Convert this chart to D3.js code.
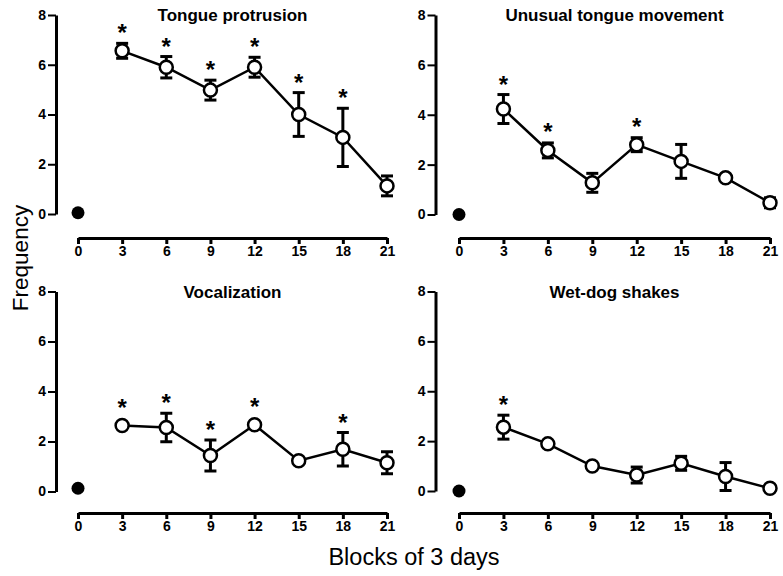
<!DOCTYPE html>
<html>
<head>
<meta charset="utf-8">
<script src="https://cdn.jsdelivr.net/npm/d3@7"></script>
<style>
  body { margin: 0; background: #fff; }
  svg { display: block; }
  text { font-family: Arial, "Liberation Sans", sans-serif; }
</style>
</head>
<body>
<div id="chart"></div>
<script>
(function () {
  // --- data -----------------------------------------------------------
  const blocks = [0, 3, 6, 9, 12, 15, 18, 21];

  const tongueMean = [0.05, 6.56, 5.9, 4.98, 5.9, 4.0, 3.08, 1.13];
  const tongueErr  = [0, 0.3, 0.43, 0.4, 0.4, 0.88, 1.17, 0.4];
  const tongueSig  = [3, 6, 9, 12, 15, 18];

  const unusualMean = [0, 4.23, 2.57, 1.27, 2.8, 2.13, 1.47, 0.47];
  const unusualErr  = [0, 0.58, 0.3, 0.38, 0.28, 0.68, 0.1, 0.2];
  const unusualSig  = [3, 6, 12];

  const vocalMean = [0.13, 2.64, 2.56, 1.44, 2.67, 1.23, 1.69, 1.15];
  const vocalErr  = [0, 0.05, 0.57, 0.62, 0.05, 0.05, 0.67, 0.44];
  const vocalSig  = [3, 6, 9, 12, 18];

  const wetMean = [0, 2.56, 1.89, 1.0, 0.64, 1.11, 0.58, 0.11];
  const wetErr  = [0, 0.48, 0.05, 0.05, 0.32, 0.28, 0.56, 0.05];
  const wetSig  = [3];

  const yTicks = [0, 2, 4, 6, 8];
  // ---------------------------------------------------------------------

  const width = 783, height = 576;
  const svg = d3.select("#chart").append("svg")
    .attr("width", width)
    .attr("height", height);

  const panels = [
    { title: "Tongue protrusion", mean: tongueMean, err: tongueErr, sig: tongueSig,
      xr: [78, 387], yr: [214, 15], yAxisX: 56, xAxisY: 238 },
    { title: "Unusual tongue movement", mean: unusualMean, err: unusualErr, sig: unusualSig,
      xr: [459, 770], yr: [214.5, 15], yAxisX: 435.5, xAxisY: 238 },
    { title: "Vocalization", mean: vocalMean, err: vocalErr, sig: vocalSig,
      xr: [78, 387], yr: [491.5, 291.5], yAxisX: 56, xAxisY: 513 },
    { title: "Wet-dog shakes", mean: wetMean, err: wetErr, sig: wetSig,
      xr: [459, 770], yr: [491, 291.5], yAxisX: 435.5, xAxisY: 513 }
  ];

  panels.forEach(p => {
    const x = d3.scaleLinear().domain([0, 21]).range(p.xr);
    const y = d3.scaleLinear().domain([0, 8]).range(p.yr);
    const g = svg.append("g");

    // y axis
    const ya = g.append("g")
      .attr("transform", `translate(${p.yAxisX},0)`)
      .call(d3.axisLeft(y).tickValues(yTicks).tickSize(8).tickSizeOuter(0).tickPadding(2));
    ya.select(".domain").attr("stroke-width", 3);
    ya.selectAll(".tick line").attr("stroke-width", 2);
    ya.selectAll(".tick text")
      .style("font-size", "14px").style("font-weight", "bold")
      .attr("fill", "#000");

    // x axis
    const xa = g.append("g")
      .attr("transform", `translate(0,${p.xAxisY})`)
      .call(d3.axisBottom(x).tickValues(blocks).tickSize(6).tickSizeOuter(0).tickPadding(2));
    xa.select(".domain").attr("stroke-width", 3);
    xa.selectAll(".tick line").attr("stroke-width", 3);
    xa.selectAll(".tick text")
      .style("font-size", "14px").style("font-weight", "bold")
      .attr("fill", "#000");

    // title
    g.append("text")
      .attr("x", (p.xr[0] + p.xr[1]) / 2)
      .attr("y", p.yr[1] + 6)
      .attr("text-anchor", "middle")
      .style("font-size", "17px").style("font-weight", "bold")
      .text(p.title);

    const pts = blocks.map((b, i) => ({ b, m: p.mean[i], e: p.err[i] }));
    const post = pts.slice(1);

    // connecting line (treatment blocks only)
    g.append("path")
      .datum(post)
      .attr("fill", "none")
      .attr("stroke", "#000")
      .attr("stroke-width", 2.5)
      .attr("d", d3.line().x(d => x(d.b)).y(d => y(d.m)));

    // error bars
    const eb = g.append("g").attr("stroke", "#000").attr("stroke-width", 3);
    post.filter(d => d.e > 0.08).forEach(d => {
      const cx = x(d.b), t = y(d.m + d.e), bt = y(d.m - d.e);
      eb.append("line").attr("x1", cx).attr("x2", cx).attr("y1", t).attr("y2", bt);
      eb.append("line").attr("x1", cx - 6).attr("x2", cx + 6).attr("y1", t).attr("y2", t);
      eb.append("line").attr("x1", cx - 6).attr("x2", cx + 6).attr("y1", bt).attr("y2", bt);
    });

    // markers
    g.append("circle")
      .attr("cx", x(pts[0].b)).attr("cy", y(pts[0].m)).attr("r", 6.5)
      .attr("fill", "#000");
    g.selectAll("circle.open")
      .data(post)
      .join("circle")
        .attr("class", "open")
        .attr("cx", d => x(d.b)).attr("cy", d => y(d.m)).attr("r", 6.5)
        .attr("fill", "#fff").attr("stroke", "#000").attr("stroke-width", 2.5);

    // significance asterisks
    post.filter(d => p.sig.includes(d.b)).forEach(d => {
      const top = Math.min(y(d.m + d.e), y(d.m) - 8) - 3;
      g.append("text")
        .attr("x", x(d.b)).attr("y", top + 1)
        .attr("text-anchor", "middle")
        .style("font-size", "24px").style("font-weight", "bold")
        .text("*");
    });
  });

  // shared axis labels
  svg.append("text")
    .attr("transform", "translate(28,258) rotate(-90)")
    .attr("text-anchor", "middle")
    .style("font-size", "22.5px")
    .text("Frequency");

  svg.append("text")
    .attr("x", 414).attr("y", 565)
    .attr("text-anchor", "middle")
    .style("font-size", "23.5px")
    .text("Blocks of 3 days");
})();
</script>
</body>
</html>
